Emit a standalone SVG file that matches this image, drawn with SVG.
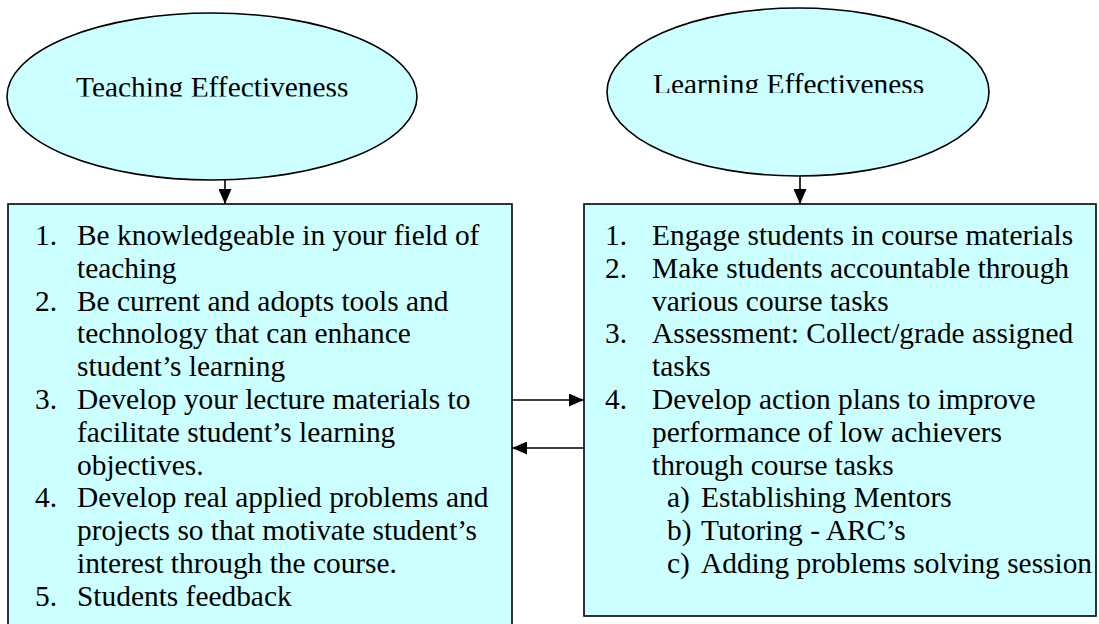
<svg xmlns="http://www.w3.org/2000/svg" width="1099" height="624" viewBox="0 0 1099 624">
<style>
.shape{fill:#CCFFFF;stroke:#000;stroke-width:1.6}
.t{font-family:"Liberation Serif","Times New Roman",serif;font-size:29.4px;fill:#000}
.conn{stroke:#000;stroke-width:1.6;fill:none}
</style>
<defs>
<marker id="ah" markerWidth="15" markerHeight="13" refX="15" refY="6.5" orient="auto" markerUnits="userSpaceOnUse">
<path d="M0,0 L15,6.5 L0,13 Z" fill="#000"/>
</marker>
<clipPath id="clipL"><rect x="0" y="0" width="500" height="96.5"/></clipPath>
<clipPath id="clipR"><rect x="580" y="0" width="519" height="93"/></clipPath>
</defs>
<rect width="1099" height="624" fill="#fff"/>
<g id="teaching-effectiveness">
<ellipse class="shape" cx="212" cy="96.5" rx="205" ry="83.5"/>
<text class="t" x="76" y="97" clip-path="url(#clipL)">Teaching Effectiveness</text>
</g>
<g id="learning-effectiveness">
<ellipse class="shape" cx="798" cy="92" rx="191" ry="84"/>
<text class="t" x="653" y="93.5" clip-path="url(#clipR)">Learning Effectiveness</text>
</g>
<g id="teaching-list">
<rect class="shape" x="8" y="204" width="504" height="430"/>
<text class="t">
<tspan x="35" y="245">1.</tspan><tspan x="77" y="245">Be knowledgeable in your field of</tspan>
<tspan x="77" y="277.8">teaching</tspan>
<tspan x="35" y="310.6">2.</tspan><tspan x="77" y="310.6">Be current and adopts tools and</tspan>
<tspan x="77" y="343.4">technology that can enhance</tspan>
<tspan x="77" y="376.2">student’s learning</tspan>
<tspan x="35" y="409">3.</tspan><tspan x="77" y="409">Develop your lecture materials to</tspan>
<tspan x="77" y="441.8">facilitate student’s learning</tspan>
<tspan x="77" y="474.6">objectives.</tspan>
<tspan x="35" y="507.4">4.</tspan><tspan x="77" y="507.4">Develop real applied problems and</tspan>
<tspan x="77" y="540.2">projects so that motivate student’s</tspan>
<tspan x="77" y="573">interest through the course.</tspan>
<tspan x="35" y="605.8">5.</tspan><tspan x="77" y="605.8">Students feedback</tspan>
</text>
</g>
<g id="learning-list">
<rect class="shape" x="584" y="204" width="512" height="412"/>
<text class="t">
<tspan x="605" y="245">1.</tspan><tspan x="652" y="245">Engage students in course materials</tspan>
<tspan x="605" y="277.8">2.</tspan><tspan x="652" y="277.8">Make students accountable through</tspan>
<tspan x="652" y="310.6">various course tasks</tspan>
<tspan x="605" y="343.4">3.</tspan><tspan x="652" y="343.4">Assessment: Collect/grade assigned</tspan>
<tspan x="652" y="376.2">tasks</tspan>
<tspan x="605" y="409">4.</tspan><tspan x="652" y="409">Develop action plans to improve</tspan>
<tspan x="652" y="441.8">performance of low achievers</tspan>
<tspan x="652" y="474.6">through course tasks</tspan>
<tspan x="667" y="507.4">a)</tspan><tspan x="701" y="507.4">Establishing Mentors</tspan>
<tspan x="667" y="540.2">b)</tspan><tspan x="701" y="540.2">Tutoring - ARC’s</tspan>
<tspan x="667" y="573">c)</tspan><tspan x="701" y="573">Adding problems solving session</tspan>
</text>
</g>
<g id="connectors">
<line class="conn" x1="225" y1="180" x2="225" y2="204" marker-end="url(#ah)"/>
<line class="conn" x1="800" y1="176" x2="800" y2="204" marker-end="url(#ah)"/>
<line class="conn" x1="512" y1="400" x2="584" y2="400" marker-end="url(#ah)"/>
<line class="conn" x1="584" y1="448" x2="512" y2="448" marker-end="url(#ah)"/>
</g>
</svg>
